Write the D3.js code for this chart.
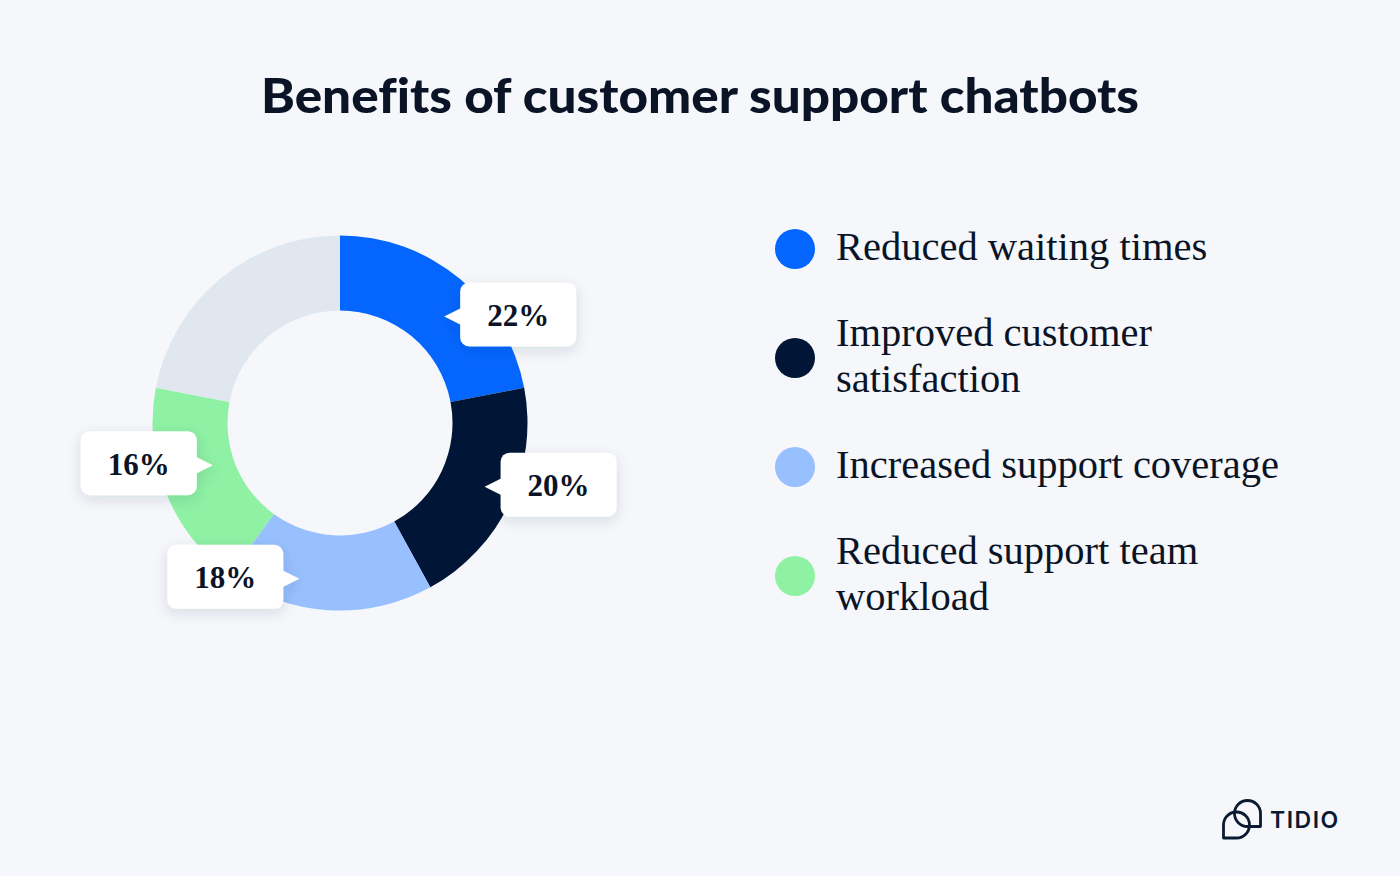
<!DOCTYPE html>
<html><head><meta charset="utf-8">
<script src="https://cdn.jsdelivr.net/npm/d3@7"></script>
<style>html,body{margin:0;padding:0;background:#f5f7fa;} svg{display:block}</style>
</head><body><svg id="chart" width="1400" height="876"></svg>
<script>
// ---- data ----
const title = "Benefits of customer support chatbots";
const categories = ["Reduced waiting times", "Improved customer satisfaction", "Increased support coverage", "Reduced support team workload"];
const legendLines = [["Reduced waiting times"], ["Improved customer", "satisfaction"], ["Increased support coverage"], ["Reduced support team", "workload"]];
const values = [22, 20, 18, 16];              // labelled percentages
const sliceShares = [22, 20, 18, 18, 22];     // angular share of each ring segment as drawn (last = unlabelled remainder)
const colors = ["#0566ff", "#011636", "#98c0ff", "#8ef1a4", "#e1e7ef"];
const brand = "TIDIO";

// ---- layout (not data) ----
const W = 1400, H = 876;
const cx = 340, cy = 423, rOuter = 187.5, rInner = 112.5;
// callout anchor: fraction along slice, radius, and which side the box sits on
const calloutLayout = [
  {t: 0.56, r: 149, side: "right"},
  {t: 0.48, r: 158, side: "right"},
  {t: 0.67, r: 161, side: "left"},
  {t: 0.55, r: 134, side: "left"}
];
const ink = "#0b1426";

const svg = d3.select("#chart");
svg.append("rect").attr("width", W).attr("height", H).attr("fill", "#f5f7fa");

const defs = svg.append("defs");
const f = defs.append("filter").attr("id", "shadow").attr("x", "-30%").attr("y", "-30%").attr("width", "160%").attr("height", "180%");
f.append("feDropShadow").attr("dx", 0).attr("dy", 4).attr("stdDeviation", 7).attr("flood-color", "#1a2b4a").attr("flood-opacity", 0.13);

// title
svg.append("text").attr("x", 700).attr("y", 113).attr("text-anchor", "middle")
  .attr("font-family", "Lato, 'Open Sans', sans-serif").attr("font-weight", 900).attr("font-size", 48)
  .style("font-variant-ligatures", "none")
  .attr("textLength", 878).attr("lengthAdjust", "spacingAndGlyphs")
  .attr("fill", ink).text(title);

// donut
const pie = d3.pie().sort(null).value(d => d).startAngle(0).endAngle(2 * Math.PI);
const arcs = pie(sliceShares);
const arc = d3.arc().innerRadius(rInner).outerRadius(rOuter);
const g = svg.append("g").attr("transform", `translate(${cx},${cy})`);
g.selectAll("path.slice").data(arcs).join("path").attr("class", "slice")
  .attr("d", arc).attr("fill", (d, i) => colors[i]);

// callouts
const bw = 116, bh = 64, pw = 16, ph = 9;
values.forEach((v, i) => {
  const a = arcs[i];
  const L = calloutLayout[i];
  const ang = a.startAngle + (a.endAngle - a.startAngle) * L.t;
  const tx = cx + L.r * Math.sin(ang), ty = cy - L.r * Math.cos(ang);
  const by = ty - bh / 2 - 2;
  let bx, tri;
  if (L.side === "right") {
    bx = tx + pw;
    tri = [[tx, ty], [bx + 2, ty - ph], [bx + 2, ty + ph]];
  } else {
    bx = tx - pw - bw;
    tri = [[tx, ty], [bx + bw - 2, ty - ph], [bx + bw - 2, ty + ph]];
  }
  const cg = svg.append("g").attr("filter", "url(#shadow)");
  cg.append("rect").attr("x", bx).attr("y", by).attr("width", bw).attr("height", bh).attr("rx", 9).attr("fill", "#fff");
  cg.append("path").attr("d", d3.line()(tri) + "Z").attr("fill", "#fff");
  svg.append("text").attr("x", bx + bw / 2).attr("y", by + bh / 2 + 11.5).attr("text-anchor", "middle")
    .attr("font-family", "'Liberation Serif', 'DejaVu Serif', serif").attr("font-weight", 700).attr("font-size", 31)
    .attr("fill", ink).text(v + "%");
});

// legend
const lg = svg.append("g");
categories.forEach((c, i) => {
  const ly = 249 + i * 109;
  lg.append("circle").attr("cx", 795).attr("cy", ly).attr("r", 20).attr("fill", colors[i]);
  const lines = legendLines[i];
  const lh = 46;
  const first = ly + 11 - (lines.length - 1) * lh / 2;
  const t = lg.append("text").attr("font-family", "'Liberation Serif', serif").attr("font-size", 40.5).attr("fill", ink);
  lines.forEach((ln, j) => t.append("tspan").attr("x", 836).attr("y", first + j * lh).text(ln));
});

// brand logo
const logo = svg.append("g").attr("fill", "none").attr("stroke", "#0b1a33").attr("stroke-width", 2.8).attr("stroke-linejoin", "round");
function drop(x0, y0, s, corner) {
  const r = s / 2, mx = x0 + r, my = y0 + r;
  if (corner === "bl") return `M${x0},${y0 + s}L${x0},${my}A${r},${r} 0 1 1 ${mx},${y0 + s}Z`;
  return `M${x0 + s},${y0 + s}L${mx},${y0 + s}A${r},${r} 0 1 1 ${x0 + s},${my}Z`;
}
logo.append("path").attr("d", drop(1223.5, 812, 26, "bl"));
logo.append("path").attr("d", drop(1234.5, 800.5, 26, "br"));
svg.append("text").attr("x", 1270).attr("y", 827.5).attr("font-family", "Inter, 'Open Sans', sans-serif")
  .attr("font-weight", 600).attr("font-size", 23).attr("letter-spacing", 1.5).attr("fill", "#0b1a33").text(brand);
</script>
</body></html>
